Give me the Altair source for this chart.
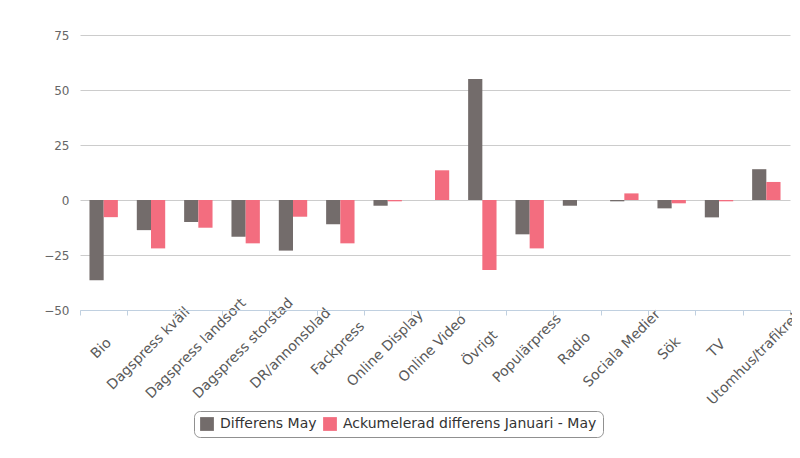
import altair as alt
import pandas as pd

categories = ["Bio", "Dagspress kväll", "Dagspress landsort", "Dagspress storstad",
              "DR/annonsblad", "Fackpress", "Online Display", "Online Video", "Övrigt",
              "Populärpress", "Radio", "Sociala Medier", "Sök", "TV", "Utomhus/trafikreklam"]
series_names = ["Differens May", "Ackumelerad differens Januari - May"]
differens_may = [-36.5, -13.7, -10, -16.7, -23, -11, -2.6, 0, 55, -15.6, -2.6, -0.6, -3.8, -7.9, 14]
ackumulerad = [-7.8, -22, -12.6, -19.7, -7.6, -19.7, -0.6, 13.5, -31.8, -22, 0, 3, -1.5, -0.6, 8.2]
colors = ["#736C6B", "#F36D7F"]

rows = []
for i, c in enumerate(categories):
    rows.append({"kategori": c, "serie": series_names[0], "varde": differens_may[i]})
    rows.append({"kategori": c, "serie": series_names[1], "varde": ackumulerad[i]})
df = pd.DataFrame(rows)

font = "DejaVu Sans"

chart = alt.Chart(df).mark_bar().encode(
    x=alt.X("kategori:N", sort=categories, title=None,
            scale=alt.Scale(paddingInner=0, paddingOuter=0),
            axis=alt.Axis(labelAngle=-45, labelAlign="center", labelBaseline="alphabetic",
                          labelFontSize=14, labelColor="#5A5A5A", labelFont=font,
                          domainColor="#C0D0E0", ticks=True, tickSize=5,
                          tickColor="#C0D0E0", tickBand="extent",
                          labelPadding=36,
                          labelOverlap=False, labelFlush=False, labelBound=False,
                          labelLimit=300)),
    xOffset=alt.XOffset("serie:N", sort=series_names,
                        scale=alt.Scale(paddingInner=0, paddingOuter=0.667)),
    y=alt.Y("varde:Q", title=None,
            scale=alt.Scale(domain=[-50, 75], nice=False, zero=True),
            axis=alt.Axis(values=[-50, -25, 0, 25, 50, 75], domain=False, ticks=False,
                          labelPadding=11, labelFontSize=12, labelColor="#666666",
                          labelFont=font, gridColor="#CCCCCC", gridWidth=1)),
    color=alt.Color("serie:N", sort=series_names,
                    scale=alt.Scale(domain=series_names, range=colors),
                    legend=alt.Legend(title=None, orient="none", direction="horizontal",
                                      legendX=114, legendY=376,
                                      symbolType="square", symbolSize=190,
                                      symbolStrokeWidth=0, symbolOpacity=1,
                                      labelFontSize=14, labelColor="#333333",
                                      labelFont=font, columnPadding=6, labelOffset=6,
                                      strokeColor="#909090", cornerRadius=6,
                                      padding=6, fillColor="white",
                                      labelLimit=400)),
).properties(
    width=710, height=275,
    padding={"left": 72, "top": 27, "right": 2, "bottom": 140},
    autosize=alt.AutoSizeParams(type="none"),
).configure_view(stroke=None)

chart.save("out.html", embed_options={"renderer": "svg", "actions": False})
